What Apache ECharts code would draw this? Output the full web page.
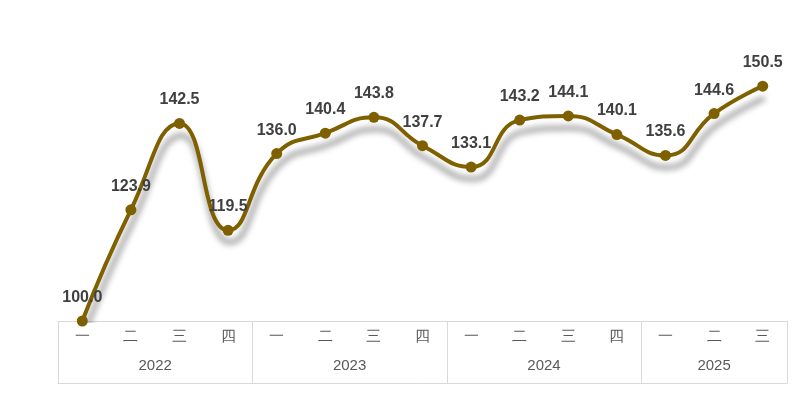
<!DOCTYPE html>
<html><head><meta charset="utf-8">
<script src="https://cdn.jsdelivr.net/npm/echarts@6/dist/echarts.min.js"></script>
<style>html,body{margin:0;padding:0;background:#fff}#c{width:811px;height:415px}</style>
</head><body><div id="c"></div>
<script>
const quarters=['一','二','三','四','一','二','三','四','一','二','三','四','一','二','三'];
const values=[100.0,123.9,142.5,119.5,136.0,140.4,143.8,137.7,133.1,143.2,144.1,140.1,135.6,144.6,150.5];
const years=['2022','2023','2024','2025'];
const yearCenters=[2,6,10,13.5];
const yearBounds=[0,4,8,12,15];
const chart=echarts.init(document.getElementById('c'));
chart.setOption({
  animation:false,
  grid:{left:58,right:24,top:42,bottom:94},
  xAxis:[{type:'category',data:quarters,boundaryGap:true,
    axisLine:{lineStyle:{color:'#d9d9d9'}},axisTick:{show:false},
    axisLabel:{color:'#595959',fontSize:15,margin:8}},
   {type:'value',min:0,max:15,position:'bottom',offset:62,
    axisLine:{show:true,lineStyle:{color:'#d9d9d9'}},
    axisTick:{show:true,inside:true,length:62,customValues:yearBounds,lineStyle:{color:'#d9d9d9'}},
    splitLine:{show:false},
    axisLabel:{inside:true,margin:10,color:'#595959',fontSize:15,customValues:yearCenters,
      formatter:v=>years[yearCenters.indexOf(v)]}}],
  yAxis:{type:'value',min:100,max:160,show:false,splitLine:{show:false}},
  series:[{type:'line',data:values,smooth:true,symbol:'circle',symbolSize:11,
    itemStyle:{color:'#7f6000'},
    lineStyle:{color:'#7f6000',width:4,shadowColor:'rgba(0,0,0,0.45)',shadowBlur:6,shadowOffsetX:2,shadowOffsetY:12},
    label:{show:true,position:'top',distance:10,formatter:p=>p.value.toFixed(1),fontSize:16,fontWeight:'bold',color:'#404040'}}]
});
</script></body></html>
